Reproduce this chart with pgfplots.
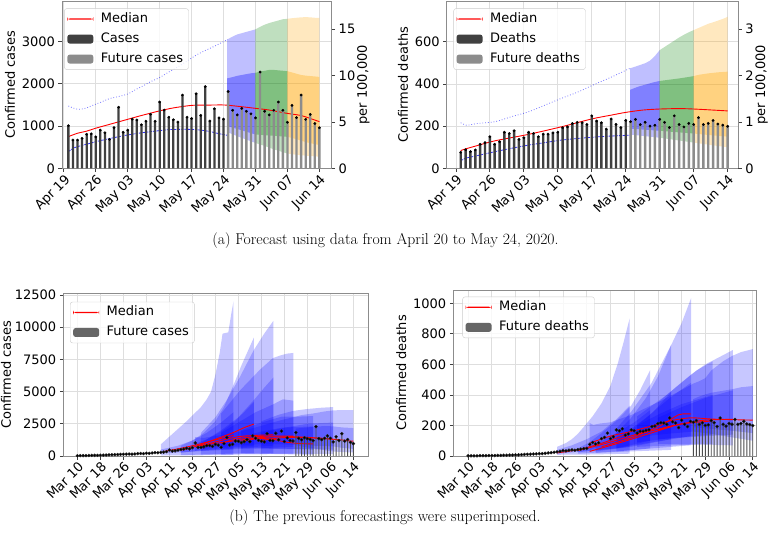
\documentclass[border=0pt]{standalone}
\usepackage{fontspec}
\newfontfamily\dv{DejaVu Sans}
\usepackage{pgfplots}
\usepackage{pgfplotstable}
\pgfplotsset{compat=1.18}
\definecolor{mplgreen}{RGB}{0,128,0}
\definecolor{mplorange}{RGB}{255,165,0}

\pgfplotstableread{
d v
1 1010
2 670
3 670
4 710
5 805
6 815
7 745
8 905
9 840
10 685
11 965
12 1445
13 855
14 905
15 1165
16 1145
17 1030
18 1115
19 1280
20 1115
21 1570
22 1380
23 1210
24 1150
25 1095
26 1735
27 1210
28 1180
29 1765
30 1255
31 1935
32 1120
33 1410
34 1195
35 1165
}\casesPast
\pgfplotstableread{
d v
36 1820
37 1375
38 1265
39 1420
40 1350
41 1290
42 1195
43 2280
44 1350
45 1265
46 1375
47 1570
48 1375
49 1090
50 1490
51 1200
52 1735
53 1160
54 1275
55 1060
56 960
}\casesFut
\pgfplotstableread{
d v
1 76
2 88
3 79
4 87
5 114
6 122
7 150
8 114
9 126
10 171
11 165
12 178
13 137
14 145
15 171
16 165
17 150
18 162
19 162
20 168
21 171
22 192
23 196
24 212
25 218
26 216
27 208
28 249
29 224
30 216
31 186
32 234
33 208
34 193
35 227
}\deathsPast
\pgfplotstableread{
d v
36 221
37 232
38 207
39 218
40 200
41 204
42 232
43 218
44 193
45 249
46 208
47 196
48 213
49 208
50 240
51 208
52 213
53 227
54 210
55 205
56 199
}\deathsFut
\pgfplotstableread{
d v
0 20
1 25
2 30
3 35
4 40
5 45
6 50
7 55
8 60
9 70
10 75
11 85
12 90
13 100
14 110
15 120
16 130
17 140
18 150
19 140
20 160
21 180
22 200
23 190
24 220
25 210
26 240
27 260
28 250
29 280
30 300
31 340
32 470
33 380
34 400
35 450
36 500
37 540
38 600
39 560
40 650
}\casesEarly
\pgfplotstableread{
d v
0 1
1 1
2 1
3 1
4 2
5 2
6 2
7 3
8 3
9 3
10 4
11 4
12 5
13 5
14 6
15 6
16 7
17 8
18 9
19 10
20 11
21 12
22 13
23 14
24 15
25 16
26 18
27 20
28 22
29 25
30 27
31 30
32 35
33 33
34 38
35 40
36 38
37 42
38 45
39 48
40 50
}\deathsEarly

\pgfplotsset{
  base/.style={
    scale only axis,
    cycle list={black\\black\\},
    font=\dv\fontsize{13}{15.6}\selectfont,
    /pgf/number format/assume math mode=true,
    /pgf/number format/1000 sep={},
    scaled ticks=false,
    grid=major,
    major grid style={draw=black!13, line width=0.7pt},
    axis line style={draw=black!45, line width=0.7pt},
    tick style={draw=black!75, line width=0.7pt},
    major tick length=3.5pt,
    tick align=outside,
    tick pos=left,
    legend cell align=left,
    legend style={draw=black!20, rounded corners=2.5pt, fill=white, fill opacity=0.8, text opacity=1, draw opacity=1,
      inner xsep=3pt, inner ysep=2pt, row sep=3pt,
      nodes={text height=9.5pt, text depth=2.5pt, inner sep=2.5pt},
      font=\dv\fontsize{13}{15.6}\selectfont},
    xticklabel style={rotate=45, anchor=north east, inner sep=1pt},
  },
  rightax/.style={
    base, axis y line*=right, axis x line=none, grid=none, ytick pos=right,
    ylabel near ticks, ylabel shift=-5pt,
  },
  legmed/.style={legend image code/.code={\path[draw=none, fill=none] (0pt,0pt) rectangle (31pt,0.1pt);\fill[red, fill opacity=1, draw=none] (0pt,-0.6pt) rectangle (26pt,0.6pt);}},
  legdark/.style={legend image code/.code={\path[draw=none, fill=none] (0pt,0pt) rectangle (31pt,0.1pt);\fill[black!75, fill opacity=1, draw=none] (0pt,-4.5pt) rectangle (26pt,4.5pt);}},
  leggray/.style={legend image code/.code={\path[draw=none, fill=none] (0pt,0pt) rectangle (31pt,0.1pt);\fill[black!45, fill opacity=1, draw=none] (0pt,-4.5pt) rectangle (26pt,4.5pt);}},
  legfut/.style={legend image code/.code={\path[draw=none, fill=none] (0pt,0pt) rectangle (31pt,0.1pt);\fill[black!60, fill opacity=1, draw=none] (0pt,-4.5pt) rectangle (26pt,4.5pt);}},
  bandout/.style={draw=none, fill opacity=0.25, forget plot},
  bandin/.style={draw=none, fill opacity=0.33, forget plot},
  fan/.style={draw=none, fill=blue, fill opacity=0.22, forget plot},
  med/.style={red, line width=0.9pt, forget plot},
  upper/.style={blue, opacity=0.55, dotted, line width=0.8pt, forget plot},
  lower/.style={blue, opacity=0.8, dash pattern=on 2.5pt off 1pt, line width=0.8pt, forget plot},
  pastbar/.style={ybar, bar width=0.5, bar shift=0pt, fill=black!75, draw=none, forget plot},
  futbar/.style={ybar, bar width=0.5, bar shift=0pt, fill=black!45, draw=none, forget plot},
  dots/.style={only marks, mark=*, mark size=1.2pt, black, mark options={fill=black, draw=black}, forget plot},
  bdots/.style={only marks, mark=*, mark size=1.5pt, black, mark options={fill=black, draw=black!85}, forget plot},
  bbar/.style={ybar, bar width=0.33, bar shift=0pt, fill=black!70, draw=none, forget plot},
}

\begin{document}
\begin{tikzpicture}
\useasboundingbox (0pt,0pt) rectangle (771pt,547pt);

%================ TOP LEFT =================
\begin{axis}[base, at={(62pt,378.7pt)}, anchor=south west, width=269.7pt, height=167.3pt,
  xmin=-0.4, xmax=58.7, ymin=0, ymax=3962,
  xtick={0,7,14,21,28,35,42,49,56},
  xticklabels={Apr 19,Apr 26,May 03,May 10,May 17,May 24,May 31,Jun 07,Jun 14},
  ytick={0,1000,2000,3000}, ylabel={Confirmed cases},
  legend style={at={(0.008,0.956)}, anchor=north west}]
\addlegendimage{legmed}\addlegendentry{Median}
\addlegendimage{legdark}\addlegendentry{Cases}
\addlegendimage{leggray}\addlegendentry{Future cases}
\addplot[bandout, fill=blue] coordinates {(35.8,3050) (37,3120) (38,3170) (39,3200) (40,3230) (41,3260) (42,3290) (42,600) (40,680) (38,760) (35.8,860)} -- cycle;
\addplot[bandin, fill=blue] coordinates {(35.8,2130) (37,2160) (38,2190) (39,2210) (40,2230) (41,2250) (42,2260) (42,800) (39,900) (35.8,1000)} -- cycle;
\addplot[bandout, fill=mplgreen] coordinates {(42,3290) (43,3350) (44,3400) (45,3440) (46,3470) (47,3500) (48,3530) (49,3540) (49,350) (46,450) (44,530) (42,600)} -- cycle;
\addplot[bandin, fill=mplgreen] coordinates {(42,2260) (43,2290) (44,2310) (45,2330) (46,2330) (47,2320) (48,2310) (49,2300) (49,745) (46,770) (42,800)} -- cycle;
\addplot[bandout, fill=mplorange] coordinates {(49,3540) (50,3555) (51,3565) (52,3575) (53,3580) (54,3575) (55,3565) (56,3560) (56,275) (53,300) (51,320) (49,350)} -- cycle;
\addplot[bandin, fill=mplorange] coordinates {(49,2300) (50,2270) (51,2240) (52,2210) (53,2195) (54,2185) (55,2175) (56,2165) (56,550) (53,620) (51,690) (49,745)} -- cycle;
\addplot[upper, smooth] coordinates {(1,1475) (2,1430) (3,1400) (4,1405) (5,1430) (6.5,1500) (8,1560) (10,1650) (12,1700) (14,1760) (16,1880) (17.5,1960) (19,2050) (21,2150) (23,2280) (25,2400) (27,2540) (29,2680) (31,2790) (33,2890) (35.9,3050)};
\addplot[lower, smooth] coordinates {(1,395) (2,470) (3,513) (5,570) (7,630) (9,680) (11,726) (14,790) (17,840) (20,880) (23,915) (26,923) (28,920) (30,905) (32,870) (34,820) (35.9,780)};
\addplot[med, smooth] coordinates {(1,750) (3,830) (5,880) (7,950) (10,1040) (14,1160) (17,1250) (21,1360) (24,1430) (28,1490) (31,1495) (35,1500) (38,1470) (42,1420) (45,1380) (49,1300) (52,1250) (54,1180) (56,1105)};
\addplot[pastbar] table[x=d,y=v]{\casesPast};
\addplot[futbar] table[x=d,y=v]{\casesFut};
\addplot[dots] table[x=d,y=v]{\casesPast};
\addplot[dots] table[x=d,y=v]{\casesFut};
\end{axis}
\begin{axis}[rightax, at={(62pt,378.7pt)}, anchor=south west, width=269.7pt, height=167.3pt,
  xmin=-0.4, xmax=58.7, ymin=0, ymax=18.06, ytick={0,5,10,15}, ylabel={per 100,000}]
\addplot[draw=none] coordinates {(0,0)};
\end{axis}

%================ TOP RIGHT =================
\begin{axis}[base, at={(446.7pt,378.7pt)}, anchor=south west, width=291.6pt, height=167.3pt,
  xmin=-1.89, xmax=58.2, ymin=0, ymax=793,
  xtick={0,7,14,21,28,35,42,49,56},
  xticklabels={Apr 19,Apr 26,May 03,May 10,May 17,May 24,May 31,Jun 07,Jun 14},
  ytick={0,200,400,600}, ylabel={Confirmed deaths},
  legend style={at={(0.023,0.956)}, anchor=north west}]
\addlegendimage{legmed}\addlegendentry{Median}
\addlegendimage{legdark}\addlegendentry{Deaths}
\addlegendimage{leggray}\addlegendentry{Future deaths}
\addplot[bandout, fill=blue] coordinates {(35.9,474) (37,482) (38,490) (39,498) (40,510) (41,532) (42,560) (42,145) (35.9,160)} -- cycle;
\addplot[bandin, fill=blue] coordinates {(35.9,372) (37,382) (38,390) (39,396) (40,403) (41,409) (42,414) (42,178) (35.9,188)} -- cycle;
\addplot[bandout, fill=mplgreen] coordinates {(42,560) (43,575) (44,590) (45,605) (46,620) (47,633) (48,645) (49,655) (49,122) (45,135) (42,145)} -- cycle;
\addplot[bandin, fill=mplgreen] coordinates {(42,414) (44,420) (46,426) (48,433) (49,437) (49,165) (45,172) (42,178)} -- cycle;
\addplot[bandout, fill=mplorange] coordinates {(49,655) (50,665) (51,675) (52,685) (53,692) (54,700) (55,708) (56,718) (56,100) (52,112) (49,122)} -- cycle;
\addplot[bandin, fill=mplorange] coordinates {(49,437) (50,443) (52,450) (54,455) (56,458) (56,150) (52,158) (49,165)} -- cycle;
\addplot[upper, smooth] coordinates {(1,216) (2.2,204) (4.6,213) (8.1,221) (11.5,245) (15,268) (18.4,300) (21.8,332) (25.3,363) (28,392) (32,432) (35.9,474)};
\addplot[lower, smooth] coordinates {(1,35) (1.9,47) (4,58) (8.1,79) (11.5,95) (15,110) (18.4,122) (21.8,134) (25,141) (28,147) (32,153) (35.9,157)};
\addplot[med, smooth] coordinates {(1,84) (2,92) (4,105) (8,130) (15,161) (21.8,197) (28,234) (32,252) (35,265) (38.5,276) (42,281) (46,283) (49,281) (53,276) (56,272)};
\addplot[pastbar] table[x=d,y=v]{\deathsPast};
\addplot[futbar] table[x=d,y=v]{\deathsFut};
\addplot[dots] table[x=d,y=v]{\deathsPast};
\addplot[dots] table[x=d,y=v]{\deathsFut};
\end{axis}
\begin{axis}[rightax, at={(446.7pt,378.7pt)}, anchor=south west, width=291.6pt, height=167.3pt,
  xmin=-1.89, xmax=58.2, ymin=0, ymax=3.61, ytick={0,1,2,3}, ylabel={per 100,000}]
\addplot[draw=none] coordinates {(0,0)};
\end{axis}

\node[font=\fontsize{15.7}{19}\selectfont] at (385.5pt,306pt) {(a) Forecast using data from April 20 to May 24, 2020.};

%================ BOTTOM LEFT =================
\begin{axis}[base, at={(63.3pt,91pt)}, anchor=south west, width=305pt, height=162.7pt,
  xmin=-4.9, xmax=101.2, ymin=0, ymax=12632,
  xtick={0,8,16,24,32,40,48,56,64,72,80,88,96},
  xticklabels={Mar 10,Mar 18,Mar 26,Apr 03,Apr 11,Apr 19,Apr 27,May 05,May 13,May 21,May 29,Jun 06,Jun 14},
  ytick={0,2500,5000,7500,10000,12500}, ylabel={Confirmed cases}, ylabel shift=-3pt,
  legend style={at={(0.022,0.948)}, anchor=north west}]
\addlegendimage{legmed}\addlegendentry{Median}
\addlegendimage{legfut}\addlegendentry{Future cases}
\addplot[fan] coordinates {(29,900) (31,1300) (33,1700) (35.5,2200) (38,2700) (40.5,3250) (43,3800) (45,4400) (46.5,5000) (48,6300) (49.5,8000) (50.5,9500) (52.5,9600) (53.5,11000) (54.3,12000) (54.3,80) (45,60) (29,40)} -- cycle;
\addplot[fan] coordinates {(29,500) (35,800) (40,1200) (45,1800) (50,2600) (54.3,3400) (54.3,500) (45,400) (29,200)} -- cycle;
\addplot[fan] coordinates {(36,800) (40,1200) (44,1800) (48,2700) (51,3800) (54.3,5500) (57,7000) (59,8000) (61.4,9200) (61.4,250) (48,150) (36,60)} -- cycle;
\addplot[fan] coordinates {(36,500) (45,1300) (50,1900) (54.3,2600) (58,3400) (61.4,4200) (61.4,800) (50,600) (36,250)} -- cycle;
\addplot[fan] coordinates {(43,1800) (48,3000) (52,4350) (56.6,6160) (61.3,8200) (65,9500) (68.2,10500) (68.2,200) (55,150) (43,100)} -- cycle;
\addplot[fan] coordinates {(43,1000) (50,2000) (56,3000) (62,4500) (65,5300) (68.2,6100) (68.2,800) (55,600) (43,400)} -- cycle;
\addplot[fan] coordinates {(50,3300) (56.6,5100) (63.5,6700) (68,7600) (70.5,7800) (73,7950) (75.1,8000) (75.1,150) (62,130) (50,100)} -- cycle;
\addplot[fan] coordinates {(50,1800) (56,2600) (62,3400) (68,4000) (71.5,4400) (75.1,4300) (75.1,700) (62,600) (50,500)} -- cycle;
\addplot[fan] coordinates {(57,2000) (64,2600) (71,3050) (76,3050) (82,3100) (82,100) (70,150) (57,200)} -- cycle;
\addplot[fan] coordinates {(57,1500) (64,1900) (71,2200) (76,2250) (82,2300) (82,500) (70,550) (57,600)} -- cycle;
\addplot[fan] coordinates {(64,2700) (70,3200) (75,3500) (80,3650) (85,3750) (89,3800) (89,150) (76,180) (64,200)} -- cycle;
\addplot[fan] coordinates {(64,1800) (72,2200) (80,2500) (89,2600) (89,500) (76,550) (64,600)} -- cycle;
\addplot[fan] coordinates {(41,1475) (44,1405) (48,1560) (52,1700) (56,1880) (59,2050) (63,2280) (67,2540) (71,2790) (75.9,3050) (78,3180) (82,3300) (86,3460) (89,3540) (92,3570) (96,3560) (96,275) (92,310) (89,350) (86,450) (82,600) (79,700) (75.9,850) (72,900) (66,923) (60,880) (54,790) (49,680) (45,570) (43,513) (41,395)} -- cycle;
\addplot[fan] coordinates {(75.9,2130) (82,2260) (86,2330) (89,2300) (92,2220) (96,2170) (96,550) (92,640) (89,745) (82,800) (75.9,1000)} -- cycle;
\addplot[med, smooth] coordinates {(30,350) (36,600) (42,900) (48,1250) (54.3,1600)};
\addplot[med, smooth] coordinates {(36,450) (42,800) (48,1300) (54,1800) (58,2200) (61.4,2480)};
\addplot[med, smooth] coordinates {(43,800) (50,1200) (56,1500) (62,1600) (68.2,1650)};
\addplot[med, smooth] coordinates {(50,1000) (56,1350) (62,1500) (68,1550) (75.1,1550)};
\addplot[med, smooth] coordinates {(57,1150) (63,1350) (68,1300) (72,1100) (77,970) (82,940)};
\addplot[med, smooth] coordinates {(64,1200) (70,1400) (76,1450) (82,1400) (89,1300)};
\addplot[med, smooth] coordinates {(41,750) (43,830) (45,880) (47,950) (50,1040) (54,1160) (57,1250) (61,1360) (64,1430) (68,1490) (71,1495) (75,1500) (78,1470) (82,1420) (85,1380) (89,1300) (92,1250) (94,1180) (96,1150)};
\addplot[bbar] table[x expr=\thisrow{d}+40, y=v]{\casesFut};
\addplot[bdots] table[x=d,y=v]{\casesEarly};
\addplot[bdots] table[x expr=\thisrow{d}+40, y=v]{\casesPast};
\addplot[bdots] table[x expr=\thisrow{d}+40, y=v]{\casesFut};
\end{axis}

%================ BOTTOM RIGHT =================
\begin{axis}[base, at={(453.3pt,91pt)}, anchor=south west, width=303.3pt, height=166pt,
  xmin=-5, xmax=97.3, ymin=0, ymax=1087,
  xtick={0,8,16,24,32,40,48,56,64,72,80,88,96},
  xticklabels={Mar 10,Mar 18,Mar 26,Apr 03,Apr 11,Apr 19,Apr 27,May 05,May 13,May 21,May 29,Jun 06,Jun 14},
  ytick={0,200,400,600,800,1000}, ylabel={Confirmed deaths},
  legend style={at={(0.03,0.96)}, anchor=north west}]
\addlegendimage{legmed}\addlegendentry{Median}
\addlegendimage{legfut}\addlegendentry{Future deaths}
\addplot[fan] coordinates {(30,60) (33,85) (35,110) (37,145) (39,190) (42,260) (45,345) (48,460) (50.5,607) (52.5,750) (54.5,902) (54.5,15) (42,10) (30,8)} -- cycle;
\addplot[fan] coordinates {(30,40) (35,70) (40,110) (45,160) (50,240) (54.5,330) (54.5,60) (42,35) (30,15)} -- cycle;
\addplot[fan] coordinates {(37,50) (41,90) (45,150) (50,230) (55,330) (58,430) (61.4,563) (61.4,50) (50,30) (37,15)} -- cycle;
\addplot[fan] coordinates {(37,40) (44,90) (50,150) (56,220) (61.4,300) (61.4,100) (50,50) (37,25)} -- cycle;
\addplot[fan] coordinates {(43,60) (47,100) (50,150) (55,250) (60,380) (64,520) (68.5,730) (68.5,40) (55,30) (43,20)} -- cycle;
\addplot[fan] coordinates {(43,45) (50,100) (55,170) (62,280) (68.5,420) (68.5,110) (55,60) (43,30)} -- cycle;
\addplot[fan] coordinates {(50,180) (55,290) (61.8,476) (68.5,727) (72,870) (75.2,1033) (75.2,70) (62,50) (50,30)} -- cycle;
\addplot[fan] coordinates {(50,120) (55,180) (60,250) (68,380) (75.2,480) (75.2,130) (62,90) (50,50)} -- cycle;
\addplot[fan] coordinates {(57,260) (62,330) (67,400) (72,480) (77,560) (82.5,620) (82.5,80) (70,70) (57,60)} -- cycle;
\addplot[fan] coordinates {(57,200) (65,280) (72,340) (82.5,400) (82.5,140) (70,120) (57,90)} -- cycle;
\addplot[fan] coordinates {(64,350) (70,450) (75,530) (80,600) (84,640) (89.3,694) (89.3,70) (76,75) (64,80)} -- cycle;
\addplot[fan] coordinates {(64,250) (72,320) (80,380) (89.3,430) (89.3,140) (76,125) (64,110)} -- cycle;
\addplot[fan] coordinates {(41,216) (42.2,204) (44.6,213) (48.1,221) (51.5,245) (55,268) (58.4,300) (61.8,332) (65.3,363) (68,392) (72,432) (75.9,474) (78,490) (80,510) (82,560) (84,590) (86,620) (89,655) (92,680) (94,690) (96,700) (96,100) (89,122) (82,145) (75.9,160) (72,153) (68,147) (65,141) (61.8,134) (58.4,122) (55,110) (51.5,95) (48.1,79) (44,58) (41.9,47) (41,35)} -- cycle;
\addplot[fan] coordinates {(75.9,372) (78,390) (80,403) (82,414) (85,424) (89,437) (92,450) (96,458) (96,150) (89,165) (82,178) (75.9,188)} -- cycle;
\addplot[med, smooth] coordinates {(30,20) (38,45) (46,90) (54.5,150)};
\addplot[med, smooth] coordinates {(37,35) (45,75) (53,120) (61.4,170)};
\addplot[med, smooth] coordinates {(41,30) (50,80) (60,140) (69,195)};
\addplot[med, smooth] coordinates {(45,60) (55,120) (65,200) (71,270) (75.2,275)};
\addplot[med, smooth] coordinates {(57,140) (65,180) (72,210) (82.5,230)};
\addplot[med, smooth] coordinates {(64,170) (72,210) (80,235) (89.3,240)};
\addplot[med, smooth] coordinates {(41,84) (48,130) (55,161) (62,197) (68,230) (75,250) (82,242) (89,238) (96,235)};
\addplot[bbar] table[x expr=\thisrow{d}+40, y=v]{\deathsFut};
\addplot[bdots] table[x=d,y=v]{\deathsEarly};
\addplot[bdots] table[x expr=\thisrow{d}+40, y=v]{\deathsPast};
\addplot[bdots] table[x expr=\thisrow{d}+40, y=v]{\deathsFut};
\end{axis}

\node[font=\fontsize{15.7}{19}\selectfont] at (385pt,29pt) {(b) The previous forecastings were superimposed.};
\end{tikzpicture}
\end{document}
